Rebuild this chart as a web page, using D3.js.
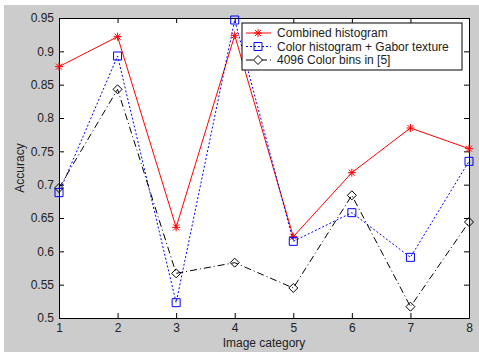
<!DOCTYPE html>
<html>
<head>
<meta charset="utf-8">
<script src="https://cdn.jsdelivr.net/npm/d3@7"></script>
<style>
  body { margin: 0; background: #fff; }
  text { font-family: "Liberation Sans", Arial, sans-serif; font-size: 12px; fill: #222; }
</style>
</head>
<body>
<div id="chart"></div>
<script>
// data
var categories = [1, 2, 3, 4, 5, 6, 7, 8];
var combined = [0.877, 0.922, 0.636, 0.924, 0.622, 0.718, 0.785, 0.754];
var colorGabor = [0.688, 0.893, 0.523, 0.947, 0.615, 0.658, 0.591, 0.735];
var colorBins = [0.695, 0.843, 0.567, 0.583, 0.545, 0.684, 0.517, 0.644];
var yTicks = [0.5, 0.55, 0.6, 0.65, 0.7, 0.75, 0.8, 0.85, 0.9, 0.95];
var seriesNames = ["Combined histogram", "Color histogram + Gabor texture", "4096 Color bins in [5]"];

var W = 479, H = 352;
var margin = {top: 18, right: 10, bottom: 34, left: 59},
    width = W - margin.left - margin.right,
    height = H - margin.top - margin.bottom;

var svg = d3.select("#chart").append("svg")
  .attr("width", W).attr("height", H);

// grey figure background
svg.append("rect")
  .attr("x", 4).attr("y", 5).attr("width", W - 4).attr("height", H - 5)
  .attr("fill", "#cccccc");

var g = svg.append("g")
  .attr("transform", "translate(" + margin.left + "," + margin.top + ")");

g.append("rect").attr("width", width).attr("height", height).attr("fill", "#fff");

var x = d3.scaleLinear().domain([1, 8]).range([0, width]);
var y = d3.scaleLinear().domain([0.5, 0.95]).range([height, 0]);

// axes, ticks pointing inward like matlab
g.append("g").attr("class", "axis")
  .attr("transform", "translate(0," + height + ")")
  .call(d3.axisBottom(x).tickValues(categories).tickFormat(d3.format("d"))
    .tickSizeInner(-5).tickSizeOuter(0).tickPadding(5));
g.append("g").attr("class", "axis")
  .call(d3.axisLeft(y).tickValues(yTicks).tickFormat(function(d) { return +d.toFixed(2) + ""; })
    .tickSizeInner(-5).tickSizeOuter(0).tickPadding(5));
g.append("g").attr("class", "axis")
  .call(d3.axisTop(x).tickValues(categories).tickFormat("").tickSizeInner(-5).tickSizeOuter(0));
g.append("g").attr("class", "axis")
  .attr("transform", "translate(" + width + ",0)")
  .call(d3.axisRight(y).tickValues(yTicks).tickFormat("").tickSizeInner(-5).tickSizeOuter(0));
g.selectAll(".axis path, .axis line").attr("stroke", "#000");
g.selectAll(".axis text").attr("fill", "#222").style("font-size", "12px")
  .style("font-family", "'Liberation Sans', Arial, sans-serif");

var line = d3.line()
  .x(function(d, i) { return x(categories[i]); })
  .y(function(d) { return y(d); });

var series = [
  {name: seriesNames[0], values: combined, color: "#ff0000", dash: null, marker: "star"},
  {name: seriesNames[1], values: colorGabor, color: "#0000ff", dash: "2,2", marker: "square"},
  {name: seriesNames[2], values: colorBins, color: "#000000", dash: "7,3,1,3", marker: "diamond"}
];

function markerPath(type) {
  if (type == "star") {
    var r = 4, d = 3;
    return "M" + (-r) + ",0H" + r + "M0," + (-r) + "V" + r +
      "M" + (-d) + "," + (-d) + "L" + d + "," + d + "M" + (-d) + "," + d + "L" + d + "," + (-d);
  }
  if (type == "square") return "M-4,-4H4V4H-4Z";
  return "M0,-4.5L4.5,0L0,4.5L-4.5,0Z";
}

series.forEach(function(s) {
  g.append("path")
    .datum(s.values)
    .attr("fill", "none")
    .attr("stroke", s.color)
    .attr("stroke-width", 1)
    .attr("stroke-dasharray", s.dash)
    .attr("d", line);
  g.selectAll(null)
    .data(s.values)
    .enter().append("path")
      .attr("transform", function(d, i) { return "translate(" + x(categories[i]) + "," + y(d) + ")"; })
      .attr("d", markerPath(s.marker))
      .attr("fill", "none")
      .attr("stroke", s.color)
      .attr("stroke-width", 1);
});

// legend
var legend = svg.append("g").attr("transform", "translate(242,23)");
legend.append("rect")
  .attr("width", 220).attr("height", 47)
  .attr("fill", "#fff").attr("stroke", "#000");
series.forEach(function(s, i) {
  var ly = 10 + i * 13.5;
  legend.append("line")
    .attr("x1", 4).attr("x2", 29).attr("y1", ly).attr("y2", ly)
    .attr("stroke", s.color).attr("stroke-dasharray", s.dash);
  legend.append("path")
    .attr("transform", "translate(16," + ly + ")")
    .attr("d", markerPath(s.marker))
    .attr("fill", s.marker == "diamond" ? "#fff" : "none")
    .attr("stroke", s.color);
  legend.append("text")
    .attr("x", 35).attr("y", ly).attr("dy", "0.35em")
    .text(s.name);
});

// axis labels
svg.append("text")
  .attr("x", margin.left + width / 2).attr("y", 347)
  .attr("text-anchor", "middle")
  .text("Image category");
svg.append("text")
  .attr("transform", "translate(24," + (margin.top + height / 2) + ") rotate(-90)")
  .attr("text-anchor", "middle")
  .text("Accuracy");
</script>
</body>
</html>
